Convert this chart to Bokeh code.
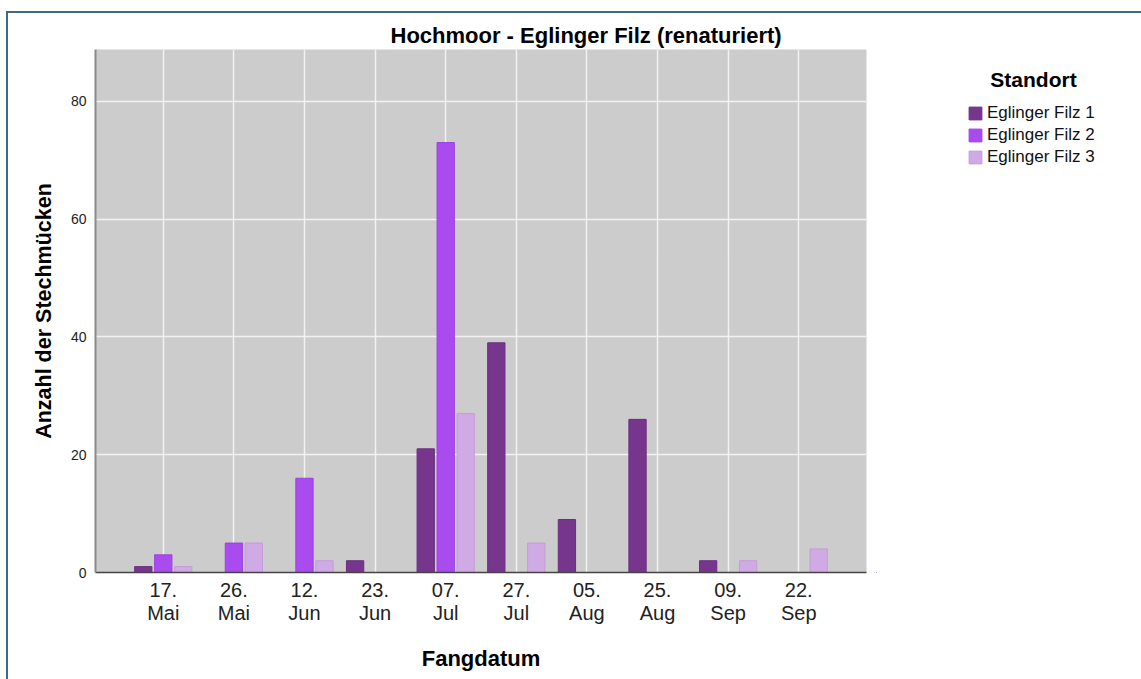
from bokeh.plotting import figure
from bokeh.layouts import row
from bokeh.models import (ColumnDataSource, FactorRange, Legend, LegendItem, Label,
                          FixedTicker, Range1d)
from bokeh.transform import dodge
from bokeh.embed import file_html
from bokeh.resources import INLINE

# ---------------- data ----------------
dates = ["17.\nMai", "26.\nMai", "12.\nJun", "23.\nJun", "07.\nJul",
         "27.\nJul", "05.\nAug", "25.\nAug", "09.\nSep", "22.\nSep"]
filz1 = [1, 0, 0, 2, 21, 39, 9, 26, 2, 0]
filz2 = [3, 5, 16, 0, 73, 0, 0, 0, 0, 0]
filz3 = [1, 5, 2, 0, 27, 5, 0, 0, 2, 4]
series_names = ["Eglinger Filz 1", "Eglinger Filz 2", "Eglinger Filz 3"]
y_ticks = [0, 20, 40, 60, 80]

colors = ["#77368e", "#a94bef", "#d0aae4"]
edges = ["#6a2f80", "#9a43dc", "#c49cd8"]
FONT = "Liberation Sans"

src = ColumnDataSource(dict(date=dates, f1=filz1, f2=filz2, f3=filz3))

p = figure(x_range=FactorRange(factors=dates, range_padding=0.092),
           y_range=Range1d(0, 88.8),
           frame_width=771, frame_height=523,
           min_border_left=87, min_border_right=10,
           min_border_top=36, min_border_bottom=107,
           output_backend="svg", toolbar_location=None,
           background_fill_color="#cccccc", border_fill_color="white",
           outline_line_color=None)

offs = [-0.283, 0.0, 0.283]
keys = ["f1", "f2", "f3"]
for k, off, c, e in zip(keys, offs, colors, edges):
    p.vbar(x=dodge("date", off, range=p.x_range), top=k, width=0.245,
           source=src, fill_color=c, line_color=e, line_width=1)

# title
p.title.text = "Hochmoor - Eglinger Filz (renaturiert)"
p.title.align = "left"
p.title.offset = 295
p.title.text_font = FONT
p.title.text_font_size = "22px"
p.title.text_font_style = "bold"
p.title.text_color = "#000000"
p.title.standoff = 4

# grids
p.xgrid.grid_line_color = "#f2f2f2"
p.xgrid.grid_line_width = 1.5
p.ygrid.grid_line_color = "#f2f2f2"
p.ygrid.grid_line_width = 1.5

# y axis
p.yaxis.ticker = FixedTicker(ticks=y_ticks)
p.yaxis.axis_label = "Anzahl der Stechmücken"
p.yaxis.axis_label_text_font = FONT
p.yaxis.axis_label_text_font_size = "21.5px"
p.yaxis.axis_label_text_font_style = "bold"
p.yaxis.axis_label_text_color = "#000000"
p.yaxis.axis_label_standoff = 12
p.yaxis.major_label_text_font = FONT
p.yaxis.major_label_text_font_size = "14px"
p.yaxis.major_label_text_color = "#222222"
p.yaxis.major_label_standoff = 3
p.yaxis.major_tick_line_color = None
p.yaxis.minor_tick_line_color = None
p.yaxis.axis_line_color = "#8a8a8a"
p.yaxis.axis_line_width = 2

# x axis
p.xaxis.axis_label = "Fangdatum"
p.xaxis.axis_label_text_font = FONT
p.xaxis.axis_label_text_font_size = "22px"
p.xaxis.axis_label_text_font_style = "bold"
p.xaxis.axis_label_text_color = "#000000"
p.xaxis.axis_label_standoff = 19
p.xaxis.major_label_text_font = FONT
p.xaxis.major_label_text_font_size = "20px"
p.xaxis.major_label_text_line_height = 1.05
p.xaxis.major_label_text_color = "#222222"
p.xaxis.major_label_standoff = 0
p.xaxis.major_tick_line_color = None
p.xaxis.axis_line_color = "#444444"
p.xaxis.axis_line_width = 1.5

# ---------------- legend panel ----------------
lf = figure(width=265, height=666, x_range=Range1d(0, 1), y_range=Range1d(0, 1),
            x_axis_location=None, y_axis_location=None,
            min_border=0, output_backend="svg", toolbar_location=None,
            outline_line_color=None, background_fill_color="white",
            border_fill_color="white")
lf.grid.visible = False

# legend proxies (kept outside the visible range of the legend panel)
proxy = ColumnDataSource(dict(x=[-10], top=[-10]))
leg_r = [lf.vbar(x="x", top="top", width=0.1, source=proxy, fill_color=c,
                 line_color=e, line_width=1) for c, e in zip(colors, edges)]
items = [LegendItem(label=n, renderers=[r]) for n, r in zip(series_names, leg_r)]
legend = Legend(items=items, location=(91, 405), orientation="vertical",
                label_text_font=FONT, label_text_font_size="17px",
                label_text_color="#111111", glyph_width=16, glyph_height=16,
                label_height=20, spacing=2, padding=0, margin=0,
                label_standoff=4, border_line_color=None,
                background_fill_color=None)
lf.add_layout(legend, "center")
lf.add_layout(Label(x=157, y=493, x_units="screen", y_units="screen",
                    text="Standort", text_font=FONT, text_font_size="21px",
                    text_font_style="bold", text_align="center",
                    text_baseline="middle", text_color="#000000"))

layout = row(p, lf, styles={"border-top": "2px solid #41697f",
                            "border-left": "2px solid #41697f",
                            "margin-left": "6px", "margin-top": "11px"})

open("out.html", "w").write(file_html(layout, INLINE))
